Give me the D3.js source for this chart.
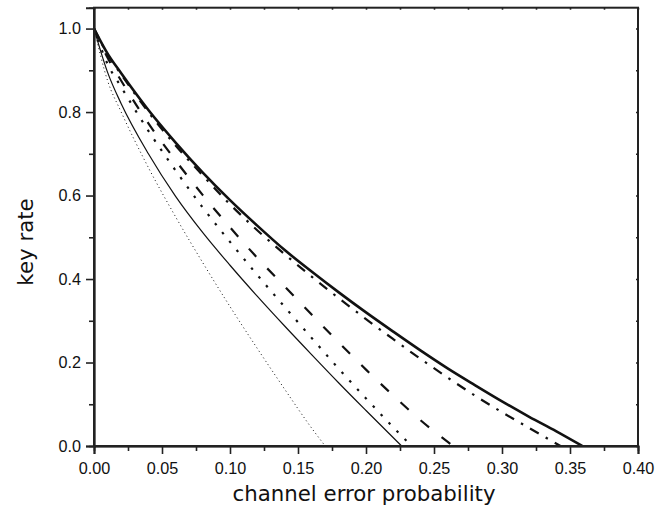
<!DOCTYPE html>
<html><head><meta charset="utf-8">
<script src="https://cdn.jsdelivr.net/npm/d3@7"></script>
<style>body{margin:0;background:#fff}svg{display:block}</style>
</head><body>
<script>
// x values (channel error probability) and key-rate readings for each curve
const xThick   = [0,0.01,0.02,0.04,0.06,0.08,0.10,0.12,0.14,0.16,0.18,0.20,0.22,0.24,0.26,0.28,0.30,0.32,0.34,0.359];
const yThick   = [1,0.94,0.893,0.805,0.727,0.655,0.589,0.528,0.470,0.418,0.368,0.320,0.274,0.229,0.186,0.146,0.107,0.070,0.035,0];
const xDashDot = [0,0.01,0.02,0.04,0.06,0.08,0.10,0.12,0.14,0.16,0.18,0.20,0.22,0.24,0.26,0.28,0.30,0.32,0.343];
const yDashDot = [1,0.938,0.89,0.80,0.72,0.648,0.579,0.517,0.460,0.406,0.354,0.304,0.256,0.209,0.164,0.121,0.081,0.043,0];
const xDash    = [0,0.01,0.02,0.04,0.06,0.08,0.10,0.12,0.14,0.16,0.18,0.20,0.22,0.24,0.264];
const yDash    = [1,0.93,0.875,0.773,0.684,0.601,0.524,0.451,0.383,0.315,0.248,0.183,0.121,0.062,0];
const xDots    = [0,0.01,0.02,0.04,0.06,0.08,0.10,0.12,0.14,0.16,0.18,0.20,0.22,0.2336];
const yDots    = [1,0.915,0.86,0.755,0.66,0.571,0.489,0.41,0.334,0.259,0.185,0.114,0.045,0];
const xThin    = [0,0.01,0.02,0.04,0.06,0.08,0.10,0.12,0.14,0.16,0.18,0.20,0.2262];
const yThin    = [1,0.895,0.82,0.70,0.598,0.511,0.433,0.359,0.288,0.219,0.151,0.085,0];
const xFine    = [0,0.01,0.02,0.04,0.06,0.08,0.10,0.12,0.14,0.16,0.170];
const yFine    = [1,0.875,0.80,0.667,0.549,0.439,0.334,0.234,0.137,0.043,0];

const xTicks = [0,0.05,0.10,0.15,0.20,0.25,0.30,0.35,0.40];
const yTicks = [0,0.2,0.4,0.6,0.8,1.0];
const xLabel = "channel error probability";
const yLabel = "key rate";

const W = 668, H = 510;
const L = 94, R = 638, T = 7.7, B = 446;
const svg = d3.select("body").append("svg").attr("width", W).attr("height", H);
const x = d3.scaleLinear().domain([0, 0.40]).range([L, R]);
const y = d3.scaleLinear().domain([0, 1.05]).range([B, T]);

const series = [
  {xs: xFine, ys: yFine, w: 1, dash: "1,3"},
  {xs: xThin, ys: yThin, w: 1.2, dash: null},
  {xs: xDots, ys: yDots, w: 2.2, dash: "2.5,9"},
  {xs: xDash, ys: yDash, w: 2.2, dash: "11,16"},
  {xs: xDashDot, ys: yDashDot, w: 2.2, dash: "10,8,2.5,8"},
  {xs: xThick, ys: yThick, w: 2.6, dash: null}
];
const line = d3.line().x(d => x(d[0])).y(d => y(d[1])).curve(d3.curveMonotoneX);
const g = svg.append("g");
series.forEach(s => {
  g.append("path").datum(s.xs.map((v, i) => [v, s.ys[i]]))
    .attr("d", line).attr("fill", "none").attr("stroke", "#111")
    .attr("stroke-width", s.w).attr("stroke-dasharray", s.dash);
});

const tickFont = "'Liberation Sans', Arial, sans-serif";
// bottom axis
const xAxis = d3.axisBottom(x).tickValues(xTicks).tickFormat(d3.format(".2f")).tickSize(8).tickPadding(8);
const gx = svg.append("g").attr("transform", `translate(0,${B})`).call(xAxis);
gx.selectAll(".tick text").attr("font-size", 16.2).attr("font-family", tickFont).attr("fill", "#111");
gx.append("g").call(d3.axisBottom(x).tickValues(d3.range(0.025, 0.40, 0.05)).tickSize(5).tickFormat(""));
// left axis
const yAxis = d3.axisLeft(y).tickValues(yTicks).tickFormat(d3.format(".1f")).tickSize(8).tickPadding(5);
const gy = svg.append("g").attr("transform", `translate(${L},0)`).call(yAxis);
gy.selectAll(".tick text").attr("font-size", 16.2).attr("font-family", tickFont).attr("fill", "#111");
gy.append("g").call(d3.axisLeft(y).tickValues(d3.range(0.1, 1.05, 0.2)).tickSize(5).tickFormat(""));
// top & right small inner ticks
const gt = svg.append("g").attr("transform", `translate(0,${T})`).call(d3.axisTop(x).tickValues(d3.range(0, 0.401, 0.025)).tickSize(-2).tickFormat(""));
const gr = svg.append("g").attr("transform", `translate(${R},0)`).call(d3.axisRight(y).tickValues(d3.range(0, 1.01, 0.1)).tickSize(-2).tickFormat(""));
[gx, gy, gt, gr].forEach(a => { a.selectAll("path,line").attr("stroke", "#222").attr("stroke-width", 1.6); a.select(".domain").attr("stroke-width", 2); });
[gt, gr].forEach(a => a.select(".domain").remove());
svg.append("rect").attr("x", L).attr("y", T).attr("width", R - L).attr("height", B - T)
  .attr("fill", "none").attr("stroke", "#222").attr("stroke-width", 2);

svg.append("text").attr("x", 364).attr("y", 501).attr("text-anchor", "middle")
  .attr("font-family", "'DejaVu Sans', Verdana, sans-serif").attr("font-size", 21.3).attr("fill", "#111").text(xLabel);
svg.append("text").attr("transform", `translate(33,242) rotate(-90)`).attr("text-anchor", "middle")
  .attr("font-family", "'DejaVu Sans', Verdana, sans-serif").attr("font-size", 21.3).attr("fill", "#111").text(yLabel);
</script>
</body></html>
